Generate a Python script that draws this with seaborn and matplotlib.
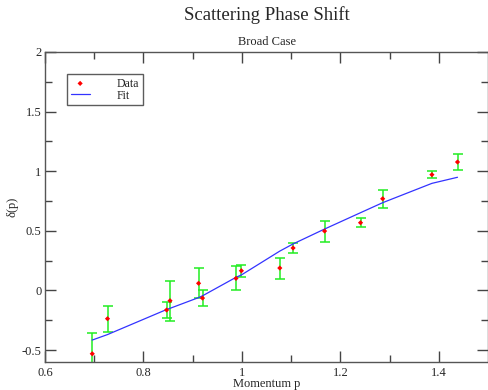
import numpy as np
import pandas as pd
import seaborn as sns
import matplotlib.pyplot as plt

# values
momentum = [0.696, 0.727, 0.847, 0.854, 0.912, 0.920, 0.988, 0.999,
            1.077, 1.104, 1.168, 1.241, 1.286, 1.386, 1.438]
phase = [-0.531, -0.237, -0.164, -0.086, 0.060, -0.064, 0.101, 0.165,
         0.188, 0.356, 0.498, 0.568, 0.769, 0.971, 1.077]
phase_err = [0.17, 0.11, 0.067, 0.168, 0.125, 0.064, 0.10, 0.052,
             0.088, 0.042, 0.088, 0.037, 0.075, 0.032, 0.068]
fit = [-0.416, -0.37, -0.16, -0.15, -0.06, -0.045, 0.11, 0.13,
       0.33, 0.39, 0.515, 0.652, 0.736, 0.898, 0.949]

df = pd.DataFrame({'p': momentum, 'delta': phase, 'err': phase_err, 'fit': fit})

sns.set_style('ticks')
plt.rcParams['font.family'] = ['Liberation Serif', 'DejaVu Serif']

fig = plt.figure(figsize=(4.89, 3.90), dpi=100)
ax = fig.add_axes([0.092, 0.0718, 0.906, 0.795])

ax.errorbar(df['p'], df['delta'], yerr=df['err'], fmt='none',
            ecolor='#22ee22', elinewidth=1.1, capsize=3.6, capthick=1.1, zorder=2)
sns.lineplot(data=df, x='p', y='fit', ax=ax, color='#3333ff', lw=0.9,
             label='Fit', zorder=3)
sns.scatterplot(data=df, x='p', y='delta', ax=ax, color='red', marker='D',
                s=7, edgecolor='none', label='Data', zorder=4)

ax.set_xlim(0.6, 1.5)
ax.set_ylim(-0.6, 2)
ax.set_xticks([0.6, 0.8, 1.0, 1.2, 1.4])
ax.set_xticklabels(['0.6', '0.8', '1', '1.2', '1.4'])
ax.set_yticks([-0.5, 0, 0.5, 1, 1.5, 2])
ax.set_yticklabels(['-0.5', '0', '0.5', '1', '1.5', '2'])
ax.set_xticks(np.arange(0.7, 1.5, 0.2), minor=True)
ax.set_yticks(np.arange(-0.25, 2, 0.5), minor=True)
ax.tick_params(which='both', direction='in', top=True, right=True,
               color='#444444', width=1)
ax.tick_params(which='major', length=8, labelsize=9)
ax.tick_params(axis='x', which='major', pad=3.5)
ax.tick_params(axis='y', which='major', pad=2.5)
ax.tick_params(which='minor', length=5)
for s in ax.spines.values():
    s.set_color('#555555')
    s.set_linewidth(1)

ax.set_xlabel('Momentum p', fontsize=9)
ax.set_ylabel('δ(p)', fontsize=9)
ax.xaxis.set_label_coords(0.5, -0.05)
ax.yaxis.set_label_coords(-0.06, 0.5)

fig.suptitle('Scattering Phase Shift', fontsize=13.5, x=0.545, y=0.962, va='center')
ax.set_title('Broad Case', fontsize=9, pad=5)

handles, labels = ax.get_legend_handles_labels()
order = [labels.index('Data'), labels.index('Fit')]
leg = ax.legend([handles[i] for i in order], [labels[i] for i in order],
                loc='upper left', bbox_to_anchor=(0.05, 0.929), borderaxespad=0,
                fontsize=8.5, frameon=True, fancybox=False, handlelength=1.6,
                handletextpad=2.3, borderpad=0.3, labelspacing=0.0)
leg.get_frame().set_edgecolor('#333333')
leg.get_frame().set_linewidth(1)

fig.savefig('out.png', dpi=100)
